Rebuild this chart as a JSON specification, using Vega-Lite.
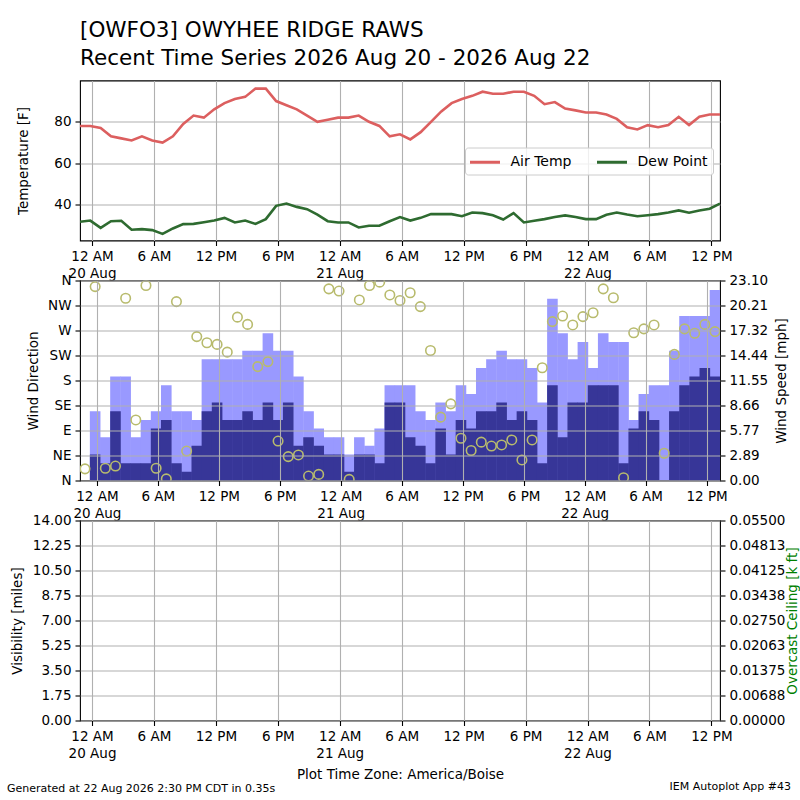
{
  "$schema": "https://vega.github.io/schema/vega-lite/v6.json",
  "padding": {"left": 7, "top": 18.5, "right": 0, "bottom": 0},
  "background": "white",
  "config": {
    "font": "DejaVu Sans",
    "view": {"stroke": "black", "strokeWidth": 1.1},
    "axis": {
      "labelFont": "DejaVu Sans", "labelFontSize": 13.5, "labelColor": "black",
      "titleFont": "DejaVu Sans", "titleFontSize": 13.5, "titleFontWeight": "normal", "titleColor": "black",
      "tickColor": "black", "tickSize": 5, "tickWidth": 1.1, "labelPadding": 4,
      "gridColor": "#b0b0b0", "gridWidth": 1.1, "gridOpacity": 1, "domain": false, "titlePadding": 5
    },
    "title": {"font": "DejaVu Sans", "fontWeight": "normal", "color": "black"}
  },
  "title": {"text": "Generated at 22 Aug 2026 2:30 PM CDT in 0.35s", "orient": "bottom", "anchor": "start", "fontSize": 11, "dx": -73, "offset": -9, "frame": "group"},
  "datasets": {
    "obs": [
      {"t": "2026-08-19T22:50:00Z", "Air Temp": 78, "Dew Point": 31.8, "drct": 21, "sped": null, "gust": null},
      {"t": "2026-08-19T23:50:00Z", "Air Temp": 78, "Dew Point": 32.4, "drct": 349, "sped": 3, "gust": 8},
      {"t": "2026-08-20T00:50:00Z", "Air Temp": 77, "Dew Point": 28.9, "drct": 22, "sped": 2, "gust": 5},
      {"t": "2026-08-20T01:50:00Z", "Air Temp": 73, "Dew Point": 32.1, "drct": 26, "sped": 8, "gust": 12},
      {"t": "2026-08-20T02:50:00Z", "Air Temp": 72, "Dew Point": 32.3, "drct": 328, "sped": 2, "gust": 12},
      {"t": "2026-08-20T03:50:00Z", "Air Temp": 71, "Dew Point": 28.0, "drct": 109, "sped": 2, "gust": 5},
      {"t": "2026-08-20T04:50:00Z", "Air Temp": 73, "Dew Point": 28.3, "drct": 351, "sped": 2, "gust": 7},
      {"t": "2026-08-20T05:50:00Z", "Air Temp": 71, "Dew Point": 27.8, "drct": 22, "sped": 6, "gust": 8},
      {"t": "2026-08-20T06:50:00Z", "Air Temp": 70, "Dew Point": 26.0, "drct": 3, "sped": 7, "gust": 11},
      {"t": "2026-08-20T07:50:00Z", "Air Temp": 73, "Dew Point": 28.6, "drct": 322, "sped": 2, "gust": 8},
      {"t": "2026-08-20T08:50:00Z", "Air Temp": 79, "Dew Point": 30.7, "drct": 53, "sped": 1, "gust": 8},
      {"t": "2026-08-20T09:50:00Z", "Air Temp": 83, "Dew Point": 30.8, "drct": 259, "sped": 4, "gust": 7},
      {"t": "2026-08-20T10:50:00Z", "Air Temp": 82, "Dew Point": 31.6, "drct": 248, "sped": 8, "gust": 14},
      {"t": "2026-08-20T11:50:00Z", "Air Temp": 86, "Dew Point": 32.4, "drct": 245, "sped": 9, "gust": 14},
      {"t": "2026-08-20T12:50:00Z", "Air Temp": 89, "Dew Point": 33.7, "drct": 231, "sped": 7, "gust": 14},
      {"t": "2026-08-20T13:50:00Z", "Air Temp": 91, "Dew Point": 31.5, "drct": 294, "sped": 7, "gust": 14},
      {"t": "2026-08-20T14:50:00Z", "Air Temp": 92, "Dew Point": 32.4, "drct": 281, "sped": 8, "gust": 15},
      {"t": "2026-08-20T15:50:00Z", "Air Temp": 96, "Dew Point": 30.8, "drct": 205, "sped": 7, "gust": 15},
      {"t": "2026-08-20T16:50:00Z", "Air Temp": 96, "Dew Point": 33.1, "drct": 214, "sped": 9, "gust": 17},
      {"t": "2026-08-20T17:50:00Z", "Air Temp": 90, "Dew Point": 39.5, "drct": 71, "sped": 7, "gust": 15},
      {"t": "2026-08-20T18:50:00Z", "Air Temp": 88, "Dew Point": 40.6, "drct": 43, "sped": 9, "gust": 15},
      {"t": "2026-08-20T19:50:00Z", "Air Temp": 86, "Dew Point": 39.0, "drct": 46, "sped": 4, "gust": 12},
      {"t": "2026-08-20T20:50:00Z", "Air Temp": 83, "Dew Point": 37.9, "drct": 8, "sped": 5, "gust": 8},
      {"t": "2026-08-20T21:50:00Z", "Air Temp": 80, "Dew Point": 35.3, "drct": 11, "sped": 4, "gust": 6},
      {"t": "2026-08-20T22:50:00Z", "Air Temp": 81, "Dew Point": 32.1, "drct": 345, "sped": 3, "gust": 5},
      {"t": "2026-08-20T23:50:00Z", "Air Temp": 82, "Dew Point": 31.5, "drct": 341, "sped": 3, "gust": 5},
      {"t": "2026-08-21T00:50:00Z", "Air Temp": 82, "Dew Point": 31.5, "drct": 2, "sped": 1, "gust": 3},
      {"t": "2026-08-21T01:50:00Z", "Air Temp": 83, "Dew Point": 29.1, "drct": 325, "sped": 3, "gust": 5},
      {"t": "2026-08-21T02:50:00Z", "Air Temp": 80, "Dew Point": 29.9, "drct": 351, "sped": 3, "gust": 4},
      {"t": "2026-08-21T03:50:00Z", "Air Temp": 78, "Dew Point": 29.9, "drct": 357, "sped": 2, "gust": 6},
      {"t": "2026-08-21T04:50:00Z", "Air Temp": 73, "Dew Point": 32.1, "drct": 334, "sped": 9, "gust": 11},
      {"t": "2026-08-21T05:50:00Z", "Air Temp": 74, "Dew Point": 34.1, "drct": 324, "sped": 9, "gust": 11},
      {"t": "2026-08-21T06:50:00Z", "Air Temp": 71.5, "Dew Point": 32.4, "drct": 338, "sped": 5, "gust": 11},
      {"t": "2026-08-21T07:50:00Z", "Air Temp": 75, "Dew Point": 33.7, "drct": 313, "sped": 4, "gust": 8},
      {"t": "2026-08-21T08:50:00Z", "Air Temp": 80, "Dew Point": 35.5, "drct": 234, "sped": 2, "gust": 7},
      {"t": "2026-08-21T09:50:00Z", "Air Temp": 85, "Dew Point": 35.5, "drct": 114, "sped": 6, "gust": 9},
      {"t": "2026-08-21T10:50:00Z", "Air Temp": 89, "Dew Point": 35.5, "drct": 138, "sped": 3, "gust": 8},
      {"t": "2026-08-21T11:50:00Z", "Air Temp": 91, "Dew Point": 34.5, "drct": 76, "sped": 7, "gust": 11},
      {"t": "2026-08-21T12:50:00Z", "Air Temp": 92.5, "Dew Point": 36.3, "drct": 54, "sped": 6, "gust": 10},
      {"t": "2026-08-21T13:50:00Z", "Air Temp": 94.5, "Dew Point": 36.0, "drct": 69, "sped": 8, "gust": 13},
      {"t": "2026-08-21T14:50:00Z", "Air Temp": 93.5, "Dew Point": 35.0, "drct": 62, "sped": 8, "gust": 14},
      {"t": "2026-08-21T15:50:00Z", "Air Temp": 93.5, "Dew Point": 32.9, "drct": 64, "sped": 9, "gust": 15},
      {"t": "2026-08-21T16:50:00Z", "Air Temp": 94.5, "Dew Point": 36.0, "drct": 73, "sped": 7, "gust": 14},
      {"t": "2026-08-21T17:50:00Z", "Air Temp": 94.5, "Dew Point": 31.5, "drct": 37, "sped": 8, "gust": 14},
      {"t": "2026-08-21T18:50:00Z", "Air Temp": 92.5, "Dew Point": 32.3, "drct": 73, "sped": 7, "gust": 13},
      {"t": "2026-08-21T19:50:00Z", "Air Temp": 88.5, "Dew Point": 33.1, "drct": 203, "sped": 2, "gust": 9},
      {"t": "2026-08-21T20:50:00Z", "Air Temp": 89.5, "Dew Point": 34.1, "drct": 286, "sped": 11, "gust": 21},
      {"t": "2026-08-21T21:50:00Z", "Air Temp": 86.4, "Dew Point": 34.9, "drct": 296, "sped": 5, "gust": 17},
      {"t": "2026-08-21T22:50:00Z", "Air Temp": 85.5, "Dew Point": 34.1, "drct": 280, "sped": 9, "gust": 14},
      {"t": "2026-08-21T23:50:00Z", "Air Temp": 84.5, "Dew Point": 33.1, "drct": 295, "sped": 9, "gust": 16},
      {"t": "2026-08-22T00:50:00Z", "Air Temp": 84.5, "Dew Point": 33.1, "drct": 302, "sped": 11, "gust": 13},
      {"t": "2026-08-22T01:50:00Z", "Air Temp": 83.5, "Dew Point": 35.2, "drct": 345, "sped": 11, "gust": 17},
      {"t": "2026-08-22T02:50:00Z", "Air Temp": 81.4, "Dew Point": 36.3, "drct": 329, "sped": 11, "gust": 16},
      {"t": "2026-08-22T03:50:00Z", "Air Temp": 77.4, "Dew Point": 35.3, "drct": 5, "sped": 2, "gust": 16},
      {"t": "2026-08-22T04:50:00Z", "Air Temp": 76.3, "Dew Point": 34.5, "drct": 266, "sped": 6, "gust": 7},
      {"t": "2026-08-22T05:50:00Z", "Air Temp": 78.4, "Dew Point": 35.0, "drct": 273, "sped": 8, "gust": 10},
      {"t": "2026-08-22T06:50:00Z", "Air Temp": 77.4, "Dew Point": 35.5, "drct": 280, "sped": 7, "gust": 11},
      {"t": "2026-08-22T07:50:00Z", "Air Temp": 78.4, "Dew Point": 36.3, "drct": 49, "sped": 0, "gust": 11},
      {"t": "2026-08-22T08:50:00Z", "Air Temp": 82.4, "Dew Point": 37.3, "drct": 227, "sped": 8, "gust": 15},
      {"t": "2026-08-22T09:50:00Z", "Air Temp": 78.4, "Dew Point": 36.2, "drct": 273, "sped": 11, "gust": 19},
      {"t": "2026-08-22T10:50:00Z", "Air Temp": 82.4, "Dew Point": 37.3, "drct": 265, "sped": 12, "gust": 19},
      {"t": "2026-08-22T11:50:00Z", "Air Temp": 83.5, "Dew Point": 38.1, "drct": 281, "sped": 13, "gust": 19},
      {"t": "2026-08-22T12:50:00Z", "Air Temp": 83.5, "Dew Point": 40.6, "drct": 268, "sped": 12, "gust": 22}
    ]
  },
  "bounds": "flush",
  "spacing": 40,
  "vconcat": [
    {
      "width": 640, "height": 160,
      "title": {"text": ["[OWFO3] OWYHEE RIDGE RAWS", "Recent Time Series 2026 Aug 20 - 2026 Aug 22"], "anchor": "start", "fontSize": 21.5, "lineHeight": 28, "offset": 11.5, "frame": "group"},
      "data": {"name": "obs"},
      "transform": [{"fold": ["Air Temp", "Dew Point"], "as": ["series", "value"]}],
      "mark": {"type": "line", "strokeWidth": 2.6, "clip": true},
      "encoding": {
        "x": {"field": "t", "type": "temporal",
          "scale": {"type": "utc", "domain": [{"year": 2026, "month": 8, "date": 19, "hours": 22, "minutes": 50, "utc": true}, {"year": 2026, "month": 8, "date": 22, "hours": 12, "minutes": 50, "utc": true}]},
          "axis": {"title": null, "grid": true, "labelOverlap": false, "labelFlush": false, "labelLineHeight": 17,
            "values": [
              {"year": 2026, "month": 8, "date": 20, "hours": 0, "utc": true},
              {"year": 2026, "month": 8, "date": 20, "hours": 6, "utc": true},
              {"year": 2026, "month": 8, "date": 20, "hours": 12, "utc": true},
              {"year": 2026, "month": 8, "date": 20, "hours": 18, "utc": true},
              {"year": 2026, "month": 8, "date": 21, "hours": 0, "utc": true},
              {"year": 2026, "month": 8, "date": 21, "hours": 6, "utc": true},
              {"year": 2026, "month": 8, "date": 21, "hours": 12, "utc": true},
              {"year": 2026, "month": 8, "date": 21, "hours": 18, "utc": true},
              {"year": 2026, "month": 8, "date": 22, "hours": 0, "utc": true},
              {"year": 2026, "month": 8, "date": 22, "hours": 6, "utc": true},
              {"year": 2026, "month": 8, "date": 22, "hours": 12, "utc": true}
            ],
            "labelExpr": "utchours(datum.value) == 0 ? ['12 AM', utcFormat(datum.value, '%d %b')] : utcFormat(datum.value, '%-I %p')"}},
        "y": {"field": "value", "type": "quantitative", "scale": {"domain": [22.8, 99.9], "nice": false, "zero": false},
          "axis": {"title": "Temperature [F]", "titlePadding": 23, "values": [40, 60, 80], "grid": true}},
        "color": {"field": "series", "type": "nominal",
          "scale": {"domain": ["Air Temp", "Dew Point"], "range": ["#dc5f5f", "#2e6b30"]},
          "legend": {"title": null, "orient": "none", "legendX": 385, "legendY": 67, "direction": "horizontal", "columns": 2,
            "symbolType": "M-1.875,0L1.875,0", "symbolStrokeWidth": 3, "symbolSize": 256, "symbolOffset": 5.5,
            "labelFontSize": 14, "labelFont": "DejaVu Sans", "labelColor": "black",
            "columnPadding": 19, "labelOffset": 16, "padding": 5, "fillColor": "rgba(255,255,255,0.8)", "strokeColor": "#cccccc", "cornerRadius": 3}}
      }
    },
    {
      "width": 640, "height": 200,
      "data": {"name": "obs"},
      "encoding": {
        "x": {"field": "t", "type": "temporal",
          "scale": {"type": "utc", "domain": [{"year": 2026, "month": 8, "date": 19, "hours": 22, "minutes": 50, "utc": true}, {"year": 2026, "month": 8, "date": 22, "hours": 12, "minutes": 50, "utc": true}]},
          "axis": {"title": null, "grid": true, "zindex": 1, "labelOverlap": false, "labelFlush": false, "labelLineHeight": 17,
            "values": [
              {"year": 2026, "month": 8, "date": 20, "hours": 0, "utc": true},
              {"year": 2026, "month": 8, "date": 20, "hours": 6, "utc": true},
              {"year": 2026, "month": 8, "date": 20, "hours": 12, "utc": true},
              {"year": 2026, "month": 8, "date": 20, "hours": 18, "utc": true},
              {"year": 2026, "month": 8, "date": 21, "hours": 0, "utc": true},
              {"year": 2026, "month": 8, "date": 21, "hours": 6, "utc": true},
              {"year": 2026, "month": 8, "date": 21, "hours": 12, "utc": true},
              {"year": 2026, "month": 8, "date": 21, "hours": 18, "utc": true},
              {"year": 2026, "month": 8, "date": 22, "hours": 0, "utc": true},
              {"year": 2026, "month": 8, "date": 22, "hours": 6, "utc": true},
              {"year": 2026, "month": 8, "date": 22, "hours": 12, "utc": true}
            ],
            "labelExpr": "utchours(datum.value) == 0 ? ['12 AM', utcFormat(datum.value, '%d %b')] : utcFormat(datum.value, '%-I %p')"}}
      },
      "layer": [
        {
          "mark": {"type": "bar", "color": "#9999ff", "size": 10.6, "clip": true},
          "encoding": {"y": {"field": "gust", "type": "quantitative", "scale": {"domain": [0, 23.1], "nice": false},
            "axis": {"orient": "right", "title": "Wind Speed [mph]", "titleAngle": -90, "titleBaseline": "top", "titlePadding": 7, "grid": false, "zindex": 1,
              "values": [0, 2.8875, 5.775, 8.6625, 11.55, 14.4375, 17.325, 20.2125, 23.1],
              "labelExpr": "datum.value == 0 ? '0.00' : format(datum.value - 0.0001, '.2f')"}}}
        },
        {
          "mark": {"type": "bar", "color": "#373698", "size": 10.6, "clip": true},
          "encoding": {"y": {"field": "sped", "type": "quantitative", "scale": {"domain": [0, 23.1], "nice": false}, "axis": null}}
        },
        {
          "mark": {"type": "point", "shape": "circle", "filled": false, "color": "#b8bb6d", "size": 90, "strokeWidth": 1.6, "opacity": 1, "clip": true},
          "encoding": {"y": {"field": "drct", "type": "quantitative", "scale": {"domain": [0, 360], "nice": false},
            "axis": {"orient": "left", "title": "Wind Direction", "titlePadding": 7.5, "grid": true, "zindex": 1,
              "values": [0, 45, 90, 135, 180, 225, 270, 315, 360],
              "labelExpr": "['N','NE','E','SE','S','SW','W','NW','N'][round(datum.value / 45)]"}}}
        }
      ],
      "resolve": {"scale": {"y": "independent"}}
    },
    {
      "width": 640, "height": 200,
      "title": {"text": "IEM Autoplot App #43", "orient": "bottom", "anchor": "end", "fontSize": 11, "dx": 71, "offset": 0, "frame": "group"},
      "data": {"name": "obs"},
      "encoding": {
        "x": {"field": "t", "type": "temporal",
          "scale": {"type": "utc", "domain": [{"year": 2026, "month": 8, "date": 19, "hours": 22, "minutes": 50, "utc": true}, {"year": 2026, "month": 8, "date": 22, "hours": 12, "minutes": 50, "utc": true}]},
          "axis": {"title": "Plot Time Zone: America/Boise", "titlePadding": 7, "grid": true, "labelOverlap": false, "labelFlush": false, "labelLineHeight": 17,
            "values": [
              {"year": 2026, "month": 8, "date": 20, "hours": 0, "utc": true},
              {"year": 2026, "month": 8, "date": 20, "hours": 6, "utc": true},
              {"year": 2026, "month": 8, "date": 20, "hours": 12, "utc": true},
              {"year": 2026, "month": 8, "date": 20, "hours": 18, "utc": true},
              {"year": 2026, "month": 8, "date": 21, "hours": 0, "utc": true},
              {"year": 2026, "month": 8, "date": 21, "hours": 6, "utc": true},
              {"year": 2026, "month": 8, "date": 21, "hours": 12, "utc": true},
              {"year": 2026, "month": 8, "date": 21, "hours": 18, "utc": true},
              {"year": 2026, "month": 8, "date": 22, "hours": 0, "utc": true},
              {"year": 2026, "month": 8, "date": 22, "hours": 6, "utc": true},
              {"year": 2026, "month": 8, "date": 22, "hours": 12, "utc": true}
            ],
            "labelExpr": "utchours(datum.value) == 0 ? ['12 AM', utcFormat(datum.value, '%d %b')] : utcFormat(datum.value, '%-I %p')"}}
      },
      "layer": [
        {
          "mark": {"type": "line", "color": "black"},
          "encoding": {"y": {"field": "vsby", "type": "quantitative", "scale": {"domain": [0, 14], "nice": false},
            "axis": {"title": "Visibility [miles]", "titlePadding": 8, "grid": true, "format": ".2f",
              "values": [0, 1.75, 3.5, 5.25, 7, 8.75, 10.5, 12.25, 14]}}}
        },
        {
          "mark": {"type": "line", "color": "green"},
          "encoding": {"y": {"field": "ceiling", "type": "quantitative", "scale": {"domain": [0, 0.055], "nice": false},
            "axis": {"orient": "right", "title": "Overcast Ceiling [k ft]", "titleColor": "green", "titleAngle": -90, "titleBaseline": "top", "titlePadding": 1, "grid": false,
              "values": [0, 0.006875, 0.01375, 0.020625, 0.0275, 0.034375, 0.04125, 0.048125, 0.055],
              "labelExpr": "format(datum.value + 0.000000001, '.5f')"}}}
        }
      ],
      "resolve": {"scale": {"y": "independent"}}
    }
  ]
}
